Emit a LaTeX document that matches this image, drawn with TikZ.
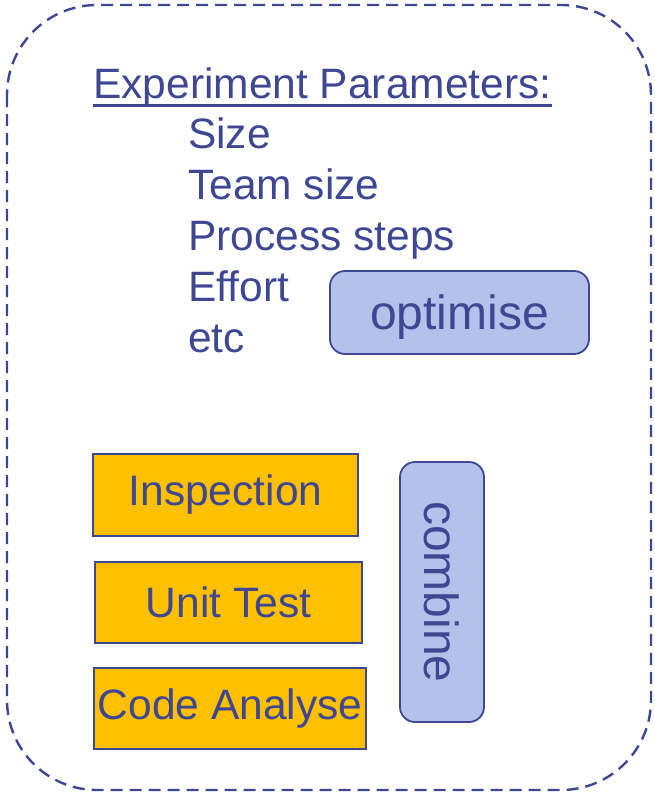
\documentclass[tikz,border=0pt]{standalone}
\usepackage{fontspec}
\setmainfont{Liberation Sans}
\definecolor{ink}{HTML}{3F4792}
\definecolor{lav}{HTML}{B6C1EB}
\definecolor{amber}{HTML}{FFC000}
\begin{document}
\begin{tikzpicture}[x=1pt,y=-1pt,
  every node/.style={text=ink, font=\fontsize{42.5}{51}\selectfont},
  label/.style={anchor=base west, inner sep=0pt},
  method/.style={draw=ink, line width=1.8pt, fill=amber, inner sep=0pt},
  action/.style={draw=ink, line width=1.8pt, fill=lav, rounded corners=15pt,
    inner sep=0pt, font=\fontsize{48}{56}\selectfont}]
\useasboundingbox (0,0) rectangle (654,793);
% dashed frame around the experiment
\draw[ink, line width=2.4pt, dash pattern=on 12pt off 7pt, rounded corners=90pt]
  (7,5) rectangle (651,790);
% parameter list
\node[label] (head) at (93,98) {Experiment Parameters:};
\draw[ink, line width=3pt] ([yshift=-7pt]head.base west) -- ([yshift=-7pt]head.base east);
\node[label] (p1) at (188,148) {Size};
\node[label] (p2) at (188,199) {Team size};
\node[label] (p3) at (188,250) {Process steps};
\node[label] (p4) at (188,301) {Effort};
\node[label] (p5) at (188,352) {etc};
% optimisation step
\node[action, text depth=0pt, minimum width=259pt, minimum height=83pt] (opt) at (459.5,312.5) {optimise};
% quality techniques
\node[method, minimum width=265pt, minimum height=82pt] (insp) at (225.5,495) {Inspection};
\node[method, minimum width=267pt, minimum height=81pt] (unit) at (228.5,602.5) {Unit Test};
\node[method, minimum width=272pt, minimum height=81pt] (code) at (230,708.5) {Code Analyse};
% combination step
\node[action, rotate=-90, minimum width=260pt, minimum height=84pt] (comb) at (442,592) {combine};
\end{tikzpicture}
\end{document}
